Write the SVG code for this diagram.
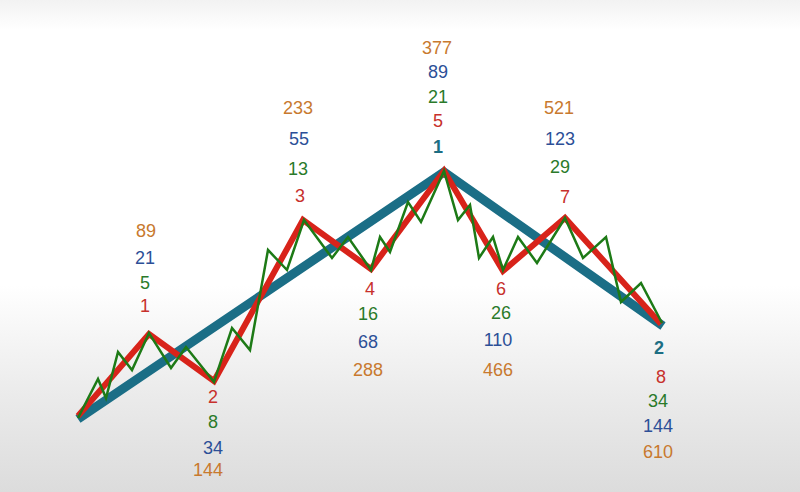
<svg xmlns="http://www.w3.org/2000/svg" width="800" height="492" viewBox="0 0 800 492">
<defs>
<linearGradient id="bg" x1="0" y1="0" x2="0" y2="1">
<stop offset="0" stop-color="#f2f2f2"/>
<stop offset="0.06" stop-color="#ffffff"/>
<stop offset="0.58" stop-color="#ffffff"/>
<stop offset="0.8" stop-color="#ebebeb"/>
<stop offset="1" stop-color="#dcdcdc"/>
</linearGradient>
<style>
text{font-family:"Liberation Sans",Arial,sans-serif;font-size:18px;text-anchor:middle}
.o{fill:#c8792e}
.b{fill:#2c4f97}
.g{fill:#2a7a2a}
.r{fill:#c7302c}
.t{fill:#1d6e83;font-weight:bold}
.wb{fill:none;stroke:#1b6e86;stroke-width:9;stroke-linejoin:miter}
.wr{fill:none;stroke:#d8231a;stroke-width:6;stroke-linejoin:miter}
.wg{fill:none;stroke:#1d7a16;stroke-width:2.5;stroke-linejoin:miter}
</style>
</defs>
<rect width="800" height="492" fill="url(#bg)"/>
<g id="connectors">
<polyline class="wb" points="78,419 444,172 663,326"/>
<polyline class="wr" points="78,416 149,334 214,381 303,220 371,269 444,171 503,271 565,218 661,324"/>
<polyline class="wg" points="78,418 98,379 106,398 118,352 132,370 149,333 171,368 186,347 214,382 232,328 250,350 268,250 287,270 304,220 332,258 348,237 371,270 380,237 390,252 408,202 421,222 444,171 458,220 470,205 479,258 493,237 503,270 518,237 537,263 565,218 583,258 606,237 621,302 641,283 662,323"/>
</g>
<g id="node-w1">
<text x="146" y="237" class="o">89</text>
<text x="145" y="264" class="b">21</text>
<text x="145" y="289" class="g">5</text>
<text x="145" y="312" class="r">1</text>
</g>
<g id="node-w2">
<text x="213" y="403" class="r">2</text>
<text x="213" y="428" class="g">8</text>
<text x="213" y="454" class="b">34</text>
<text x="208" y="476" class="o">144</text>
</g>
<g id="node-w3">
<text x="298" y="114" class="o">233</text>
<text x="299" y="145" class="b">55</text>
<text x="298" y="175" class="g">13</text>
<text x="300" y="202" class="r">3</text>
</g>
<g id="node-w4">
<text x="370" y="295" class="r">4</text>
<text x="368" y="320" class="g">16</text>
<text x="368" y="348" class="b">68</text>
<text x="368" y="376" class="o">288</text>
</g>
<g id="node-top">
<text x="437" y="54" class="o">377</text>
<text x="438" y="78" class="b">89</text>
<text x="438" y="103" class="g">21</text>
<text x="438" y="127" class="r">5</text>
<text x="438" y="153" class="t">1</text>
</g>
<g id="node-w6">
<text x="501" y="295" class="r">6</text>
<text x="501" y="319" class="g">26</text>
<text x="498" y="346" class="b">110</text>
<text x="498" y="376" class="o">466</text>
</g>
<g id="node-w7">
<text x="559" y="114" class="o">521</text>
<text x="560" y="145" class="b">123</text>
<text x="560" y="173" class="g">29</text>
<text x="565" y="203" class="r">7</text>
</g>
<g id="node-end">
<text x="659" y="354" class="t">2</text>
<text x="661" y="383" class="r">8</text>
<text x="658" y="407" class="g">34</text>
<text x="658" y="432" class="b">144</text>
<text x="658" y="458" class="o">610</text>
</g>
</svg>
